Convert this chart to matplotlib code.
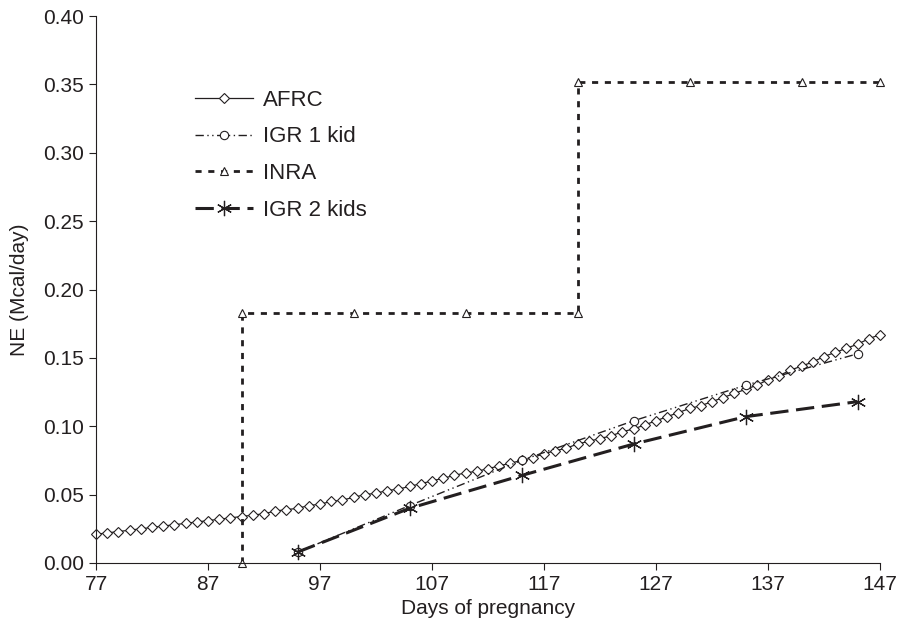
import numpy as np
import matplotlib
matplotlib.use('Agg')
import matplotlib.pyplot as plt
from matplotlib.ticker import FormatStrFormatter

plt.rcParams['font.family'] = ['Liberation Sans', 'DejaVu Sans']
ink = '#231f20'
plt.rcParams['text.color'] = ink
plt.rcParams['axes.labelcolor'] = ink
plt.rcParams['xtick.color'] = ink
plt.rcParams['ytick.color'] = ink
plt.rcParams['axes.edgecolor'] = ink

# AFRC: one value per day, 77..147
afrc_days = list(range(77, 148))
afrc_ne = [0.021, 0.022, 0.023, 0.024, 0.025, 0.026, 0.027, 0.028, 0.029, 0.030,
           0.031, 0.032, 0.033, 0.034, 0.035, 0.036, 0.038, 0.039, 0.040, 0.042,
           0.043, 0.045, 0.046, 0.048, 0.050, 0.051, 0.053, 0.054, 0.056, 0.058,
           0.060, 0.062, 0.064, 0.066, 0.067, 0.069, 0.071, 0.073, 0.075, 0.077,
           0.080, 0.082, 0.084, 0.087, 0.089, 0.091, 0.093, 0.096, 0.098, 0.101,
           0.104, 0.107, 0.110, 0.113, 0.115, 0.118, 0.121, 0.124, 0.127, 0.130,
           0.134, 0.137, 0.141, 0.144, 0.147, 0.151, 0.154, 0.157, 0.160, 0.164,
           0.167]

igr_days = [95, 105, 115, 125, 135, 145]
igr1_ne = [0.008, 0.042, 0.075, 0.104, 0.130, 0.153]
igr2_ne = [0.008, 0.040, 0.064, 0.087, 0.107, 0.118]

inra_days = [90, 90, 100, 110, 120, 120, 130, 140, 147]
inra_ne = [0.0, 0.183, 0.183, 0.183, 0.183, 0.352, 0.352, 0.352, 0.352]

x_ticks = [77, 87, 97, 107, 117, 127, 137, 147]

fig = plt.figure(figsize=(9.08, 6.3), dpi=100)
ax = fig.add_axes([96/908, 1 - 563/630, (880-96)/908, (563-16)/630])

ax.plot(afrc_days, afrc_ne, color=ink, lw=0.9, marker='D', ms=5,
        mfc='white', mec=ink, mew=0.8, label='AFRC', clip_on=False)
ax.plot(igr_days, igr1_ne, color=ink, lw=1.0, dashes=(6, 2.5, 1, 2.5, 1, 2.5),
        marker='o', ms=6, mfc='white', mec=ink, mew=0.8, label='IGR 1 kid')
ax.plot(inra_days, inra_ne, color=ink, lw=2.0, dashes=(2.2, 2.4),
        marker='^', ms=6, mfc='white', mec=ink, mew=0.8, label='INRA', clip_on=False)
ax.plot(igr_days, igr2_ne, color=ink, lw=2.2, dashes=(6, 2.5),
        marker=(6, 2, 0), ms=11, mec=ink, mew=0.9, label='IGR 2 kids')

ax.set_xlim(77, 147)
ax.set_ylim(0, 0.40)
ax.set_xticks(x_ticks)
ax.set_yticks(np.arange(0, 0.401, 0.05))
ax.yaxis.set_major_formatter(FormatStrFormatter('%.2f'))
ax.tick_params(direction='out', length=5, labelsize=15)
ax.spines['top'].set_visible(False)
ax.spines['right'].set_visible(False)

ax.set_xlabel('Days of pregnancy', fontsize=15, labelpad=4)
ax.set_ylabel('NE (Mcal/day)', fontsize=15, labelpad=10)

ax.legend(loc='upper left', bbox_to_anchor=(0.193, 0.889), bbox_transform=fig.transFigure,
          frameon=False, fontsize=16, handlelength=2.6, handletextpad=0.45,
          labelspacing=0.7)

plt.savefig('out.png', dpi=100)
